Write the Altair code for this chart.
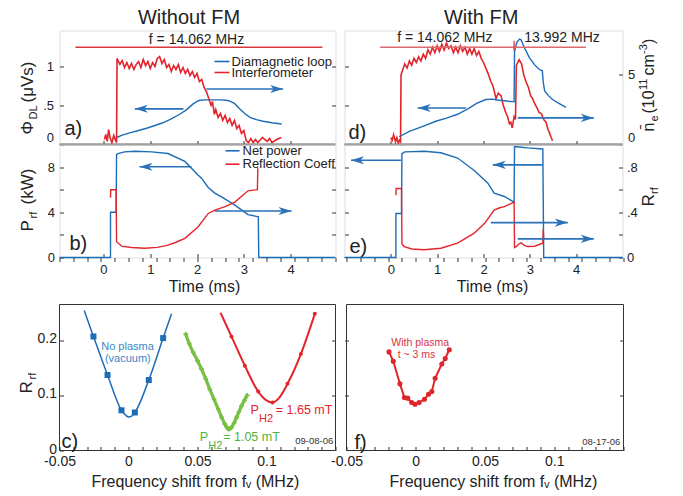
import altair as alt
import pandas as pd

FONT = "Liberation Sans, Arial, Helvetica, sans-serif"
BLUE = "#1d6cb7"
RED = "#e4242b"
GREEN = "#76c043"
GREEN_T = "#4fb33a"
ARROW = "#2a71b8"
FLINE = "#d8383f"
FLINE_D = "#dc6a6e"
INK = "#222222"

# ---------------- (a) without FM: diamagnetic loop (uVs) and interferometer (1e11 cm^-3)
A_DL_T = [0.28, 0.40, 0.56, 0.75, 0.92, 1.10, 1.27, 1.45, 1.63, 1.78, 1.91, 2.00, 2.06, 2.20,
          2.35, 2.50, 2.62, 2.70, 2.80, 2.91, 3.02, 3.13, 3.27, 3.41, 3.60, 3.81]
A_DL_V = [0.09, 0.12, 0.15, 0.18, 0.21, 0.245, 0.28, 0.33, 0.39, 0.45, 0.52, 0.555, 0.57, 0.575,
          0.575, 0.575, 0.57, 0.56, 0.53, 0.46, 0.40, 0.35, 0.32, 0.30, 0.28, 0.265]
A_NE_T = [0.02, 0.05, 0.08, 0.11, 0.14, 0.18, 0.22, 0.26, 0.28, 0.29, 0.35, 0.40, 0.45, 0.50,
          0.55, 0.60, 0.65, 0.70, 0.75, 0.80, 0.85, 0.90, 0.95, 1.00, 1.05, 1.10, 1.15, 1.20,
          1.25, 1.30, 1.35, 1.40, 1.45, 1.50, 1.55, 1.60, 1.65, 1.70, 1.75, 1.80, 1.85, 1.90,
          1.95, 2.00, 2.05, 2.10, 2.15, 2.20, 2.25, 2.30, 2.33, 2.37, 2.40, 2.45, 2.50, 2.55,
          2.60, 2.65, 2.70, 2.75, 2.80, 2.85, 2.90, 2.95, 3.00, 3.05, 3.10, 3.15, 3.20, 3.25,
          3.30, 3.40, 3.50, 3.55, 3.60, 3.70, 3.80]
A_NE_V = [0.36, 0.72, 0.22, 1.08, 0.50, 0.14, 0.65, 0.29, 0.14, 6.19, 5.76, 6.04, 5.54, 5.90,
          5.47, 5.83, 5.40, 5.76, 5.97, 5.54, 6.12, 5.68, 5.97, 5.47, 5.90, 5.61, 6.19, 6.33,
          5.83, 6.12, 5.54, 5.76, 5.25, 5.68, 5.40, 5.76, 5.18, 5.54, 5.11, 5.40, 4.96, 5.25,
          4.82, 5.11, 4.53, 4.68, 4.10, 3.81, 3.31, 2.81, 3.09, 2.16, 2.52, 1.94, 2.23, 1.73,
          2.09, 1.58, 1.87, 1.37, 1.73, 1.15, 1.37, 0.79, 1.01, 0.29, 0.14, 0.43, 0.14, 0.36,
          0.14, 0.50, 0.22, 0.43, 0.14, 0.36, 0.50]
A_FLINE = {"t0": [-0.60], "t1": [4.68], "v": [1.254]}
A_ARR_X0 = [1.71, 2.20]
A_ARR_X1 = [0.67, 3.84]
A_ARR_Y = [0.46, 0.716]

# ---------------- (b) without FM: net power (kW) and reflection coefficient
B_NP_T = [-0.94, 0.15, 0.15, 0.27, 0.28, 0.31, 0.45, 0.67, 1.03, 1.38, 1.74, 2.02, 2.10, 2.24,
          2.38, 2.55, 2.80, 3.09, 3.31, 3.32, 4.96]
B_NP_V = [0, 0, 4.0, 4.0, 9.1, 9.2, 9.35, 9.4, 9.35, 9.2, 8.5, 7.3, 7.0, 6.2,
          5.7, 5.3, 4.65, 3.8, 3.6, 0, 0]
B_RC_T = [0.15, 0.155, 0.27, 0.28, 0.39, 0.60, 0.88, 1.15, 1.38, 1.55, 1.74, 2.02, 2.24, 2.38,
          2.60, 2.81, 3.09, 3.29, 3.30]
B_RC_V = [0.53, 0.60, 0.60, 0.14, 0.10, 0.088, 0.082, 0.09, 0.11, 0.135, 0.17, 0.27, 0.39, 0.42,
          0.45, 0.49, 0.59, 0.60, 0.79]
B_ARR_X0 = [1.88, 2.38]
B_ARR_X1 = [0.77, 4.02]
B_ARR_Y = [8.03, 4.12]

# ---------------- (d) with FM
D_DL_T = [0.18, 0.40, 0.72, 0.97, 1.20, 1.44, 1.69, 1.85, 2.05, 2.20, 2.34, 2.50, 2.66, 2.67,
          2.72, 2.78, 2.81, 2.88, 2.99, 3.10, 3.20, 3.27, 3.29, 3.32, 3.40, 3.49, 3.60, 3.78]
D_DL_V = [0.10, 0.17, 0.24, 0.30, 0.34, 0.39, 0.47, 0.53, 0.58, 0.585, 0.57, 0.56, 0.55, 1.20,
          1.32, 1.36, 1.35, 1.25, 1.12, 1.03, 0.97, 0.95, 0.80, 0.69, 0.63, 0.58, 0.54, 0.48]
D_NE_T = [0.00, 0.03, 0.06, 0.10, 0.13, 0.16, 0.19, 0.21, 0.22, 0.25, 0.30, 0.35, 0.40, 0.45,
          0.50, 0.55, 0.60, 0.65, 0.70, 0.75, 0.80, 0.85, 0.90, 0.95, 1.00, 1.05, 1.10, 1.15,
          1.20, 1.25, 1.30, 1.35, 1.40, 1.45, 1.50, 1.55, 1.60, 1.65, 1.70, 1.75, 1.80, 1.85,
          1.90, 1.95, 2.00, 2.05, 2.10, 2.15, 2.20, 2.25, 2.27, 2.32, 2.38, 2.42, 2.48, 2.52,
          2.56, 2.59, 2.62, 2.66, 2.69, 2.71, 2.77, 2.82, 2.87, 2.92, 2.97, 3.02, 3.06, 3.11,
          3.16, 3.20, 3.25, 3.30, 3.35, 3.39, 3.42, 3.46, 3.49]
D_NE_V = [0.5, 0.3, 0.7, 0.2, 0.5, 0.1, 0.3, 0.2, 5.0, 5.3, 5.8, 5.5, 6.0, 5.7,
          6.2, 5.9, 6.3, 6.0, 6.5, 6.2, 6.8, 6.5, 7.0, 6.6, 7.1, 6.7, 7.2, 6.8,
          7.3, 6.9, 7.1, 6.6, 7.0, 6.6, 7.1, 6.7, 7.0, 6.5, 6.9, 6.5, 6.9, 6.4,
          6.7, 6.2, 5.9, 5.5, 5.1, 4.6, 4.25, 3.6, 3.3, 3.7, 3.5, 2.9, 2.3, 2.0,
          1.5, 1.6, 1.2, 2.0, 1.8, 5.7, 6.1, 5.8, 5.0, 4.5, 4.1, 3.5, 3.3, 2.9,
          2.6, 2.3, 2.2, 1.8, 1.6, 1.1, 0.87, 0.5, 0.27]
D_FLINE = {"t0": [-0.23], "t1": [4.21], "v": [1.254]}
D_FTICK = {"t": [2.66], "v0": [1.21], "v1": [1.338]}
D_ARR_X0 = [1.62, 2.74]
D_ARR_X1 = [0.58, 4.38]
D_ARR_Y = [0.47, 0.343]

# ---------------- (e) with FM
E_NP_T = [-1.0, 0.11, 0.11, 0.23, 0.24, 0.30, 0.72, 1.08, 1.44, 1.80, 2.09, 2.23, 2.45, 2.66,
          2.67, 2.72, 2.95, 3.28, 3.30, 5.0]
E_NP_V = [0, 0, 3.9, 3.9, 9.2, 9.35, 9.4, 9.27, 8.8, 7.7, 6.6, 5.7, 5.4, 4.9,
          9.8, 9.8, 9.7, 9.6, 0, 0]
E_RC_T = [0.11, 0.115, 0.23, 0.24, 0.29, 0.45, 0.72, 1.08, 1.44, 1.80, 2.02, 2.23, 2.35, 2.45,
          2.66, 2.67, 2.72, 2.76, 2.81, 2.87, 2.95, 3.10, 3.28, 3.29, 3.30]
E_RC_V = [0.55, 0.61, 0.61, 0.12, 0.097, 0.075, 0.068, 0.082, 0.127, 0.215, 0.30, 0.42, 0.44, 0.45,
          0.49, 0.088, 0.10, 0.12, 0.13, 0.11, 0.097, 0.10, 0.126, 0.25, 0.15]
E_ARR_X0 = [0.22, 3.28, 2.16, 2.74]
E_ARR_X1 = [-0.86, 2.20, 3.82, 4.38]
E_ARR_Y = [8.6, 8.2, 3.09, 1.65]

# ---------------- (c) frequency scans, 09-08-06
C_VAC_F = [-0.0321, -0.0254, -0.0152, -0.0051, -0.002, 0.0, 0.002, 0.0046, 0.0147, 0.0251, 0.0312]
C_VAC_R = [0.254, 0.207, 0.137, 0.073, 0.064, 0.061, 0.062, 0.069, 0.128, 0.204, 0.248]
C_VAC_PF = [-0.0254, -0.0152, -0.0051, 0.0046, 0.0147, 0.0251]
C_VAC_PR = [0.207, 0.137, 0.073, 0.069, 0.128, 0.204]
C_G_F = [0.0415, 0.0440, 0.0469, 0.0500, 0.0529, 0.0560, 0.0589, 0.0620, 0.0650, 0.0675, 0.0698,
         0.0710, 0.0722, 0.0734, 0.0746, 0.0765, 0.0783, 0.0800, 0.0819, 0.0840, 0.0860]
C_G_R = [0.211, 0.194, 0.178, 0.163, 0.148, 0.130, 0.111, 0.093, 0.075, 0.060, 0.048,
         0.043, 0.039, 0.039, 0.042, 0.050, 0.060, 0.070, 0.081, 0.091, 0.100]
C_R_F = [0.0667, 0.0746, 0.0843, 0.0940, 0.1000, 0.1043, 0.1090, 0.1152, 0.1249, 0.1350]
C_R_R = [0.250, 0.207, 0.154, 0.107, 0.091, 0.087, 0.095, 0.121, 0.175, 0.248]
C_R_PF = [0.0746, 0.0843, 0.0940, 0.1043, 0.1152, 0.1249, 0.1350]
C_R_PR = [0.207, 0.154, 0.107, 0.087, 0.121, 0.175, 0.248]

# ---------------- (f) with plasma, t ~ 3 ms, 08-17-06
F_F = [-0.0193, -0.0162, -0.0114, -0.0082, -0.0058, -0.0029, -0.0005, 0.0024, 0.0063, 0.0092,
       0.0116, 0.0140, 0.0188, 0.0213, 0.0242]
F_R = [0.179, 0.162, 0.121, 0.096, 0.095, 0.087, 0.084, 0.087, 0.093, 0.102,
       0.107, 0.131, 0.157, 0.167, 0.183]

TIME_TICKS = [0, 1, 2, 3, 4]
FREQ_TICKS = [-0.05, -0.04, -0.03, -0.02, -0.01, 0, 0.01, 0.02, 0.03, 0.04, 0.05, 0.06, 0.07,
              0.08, 0.09, 0.1, 0.11, 0.12, 0.13, 0.14, 0.15]
FREQ_LABELS = "[-0.05, 0, 0.05, 0.1]"

ONE = pd.DataFrame({"k": [0]})
HEAD_R = "M1,0L-1,-0.62L-0.45,0L-1,0.62Z"
HEAD_L = "M-1,0L1,-0.62L0.45,0L1,0.62Z"
GAP = 47  # empty band above the frequency panels (c, f)


def series(ts, vs):
    return pd.DataFrame({"t": ts, "v": vs, "i": list(range(len(ts)))})


def ax(orient, values, labels=True, expr="toString(datum.value)", pad=5, size=13, flush=False,
       loff=0):
    kw = dict(orient=orient, values=values, title=None, domain=False, grid=False,
              ticks=True, tickSize=4, offset=-4, tickColor="#333", tickWidth=1,
              labels=labels, labelFlush=flush)
    if labels:
        kw.update(labelExpr=expr, labelPadding=pad, labelFontSize=size, labelFont=FONT,
                  labelColor=INK, labelOffset=loff)
    return alt.Axis(**kw)


def scale_fn(channel, dom, axis, rng=None):
    cls = alt.X if channel == "x" else alt.Y
    skw = dict(domain=dom, nice=False, zero=False)
    if rng is not None:
        skw["range"] = rng

    def f(field, axis_override="same"):
        a = axis if axis_override == "same" else axis_override
        return cls(field, type="quantitative", scale=alt.Scale(**skw), axis=a)
    return f


def txt(s, x, y, size=13, color=INK, align="left", angle=0, baseline="alphabetic"):
    return alt.Chart(ONE).mark_text(text=s, font=FONT, fontSize=size, color=color, align=align,
                                    baseline=baseline, angle=angle).encode(
        x=alt.value(x), y=alt.value(y))


def hline(x0, x1, y, color, width=1.6):
    return alt.Chart(ONE).mark_rule(color=color, strokeWidth=width).encode(
        x=alt.value(x0), x2=alt.value(x1), y=alt.value(y))


def frame(x0, x1, y0, y1):
    return alt.Chart(ONE).mark_rect(fillOpacity=0, stroke="#333", strokeWidth=1).encode(
        x=alt.value(x0), x2=alt.value(x1), y=alt.value(y0), y2=alt.value(y1))


def line(ts, vs, X, Y, color, width=1.3, interp="linear", xaxis="same", yaxis="same"):
    return alt.Chart(series(ts, vs)).mark_line(color=color, strokeWidth=width,
                                               interpolate=interp).encode(
        x=X("t", xaxis), y=Y("v", yaxis), order=alt.Order("i:Q"))


def arrows(x0, x1, y, X, Y):
    d = pd.DataFrame({"t0": x0, "t1": x1, "v": y})
    shaft = alt.Chart(d).mark_rule(color=ARROW, strokeWidth=1.6).encode(
        x=X("t0"), x2=alt.X2("t1"), y=Y("v"))
    right = alt.Chart(d).transform_filter("datum.t1 > datum.t0").mark_point(
        shape=HEAD_R, filled=True, size=170, color=ARROW, opacity=1, xOffset=-6.5).encode(
        x=X("t1"), y=Y("v"))
    left = alt.Chart(d).transform_filter("datum.t1 < datum.t0").mark_point(
        shape=HEAD_L, filled=True, size=170, color=ARROW, opacity=1, xOffset=6.5).encode(
        x=X("t1"), y=Y("v"))
    return [shaft, right, left]


def rot(parts):
    return [txt(s, x, y, size, color=INK, angle=270) for (s, x, y, size) in parts]


TITLE_Y = -6.8

# ================= panel a =================
XA = scale_fn("x", [-0.94, 4.96], ax("bottom", TIME_TICKS, labels=False))
YA_PHI = scale_fn("y", [0, 1.47], None)
YA_NE = scale_fn("y", [0, 8.2], None)
phi_axis_a = ax("left", [0, 0.5, 1],
                expr="datum.value == 0.5 ? '.5' : toString(datum.value)", pad=6, flush=True)

panel_a = alt.layer(
    hline(0, 276, 114, "#666", 2.2),
    alt.Chart(series(A_DL_T, A_DL_V)).mark_line(color=BLUE, strokeWidth=1.4).encode(
        x=XA("t"), y=YA_PHI("v", phi_axis_a), order=alt.Order("i:Q")),
    line(A_NE_T, A_NE_V, XA, YA_NE, RED, 1.6),
    alt.Chart(pd.DataFrame(A_FLINE)).mark_rule(color=FLINE, strokeWidth=1.3).encode(
        x=XA("t0"), x2=alt.X2("t1"),
        y=YA_PHI("v", ax("right", [0.5, 1], labels=False))),
    *arrows(A_ARR_X0, A_ARR_X1, A_ARR_Y, XA, YA_PHI),
    hline(155, 170, 31, BLUE), hline(155, 170, 42, RED),
    txt("Diamagnetic loop", 172, 31, 13, baseline="middle"),
    txt("Interferometer", 172, 42, 13, baseline="middle"),
    txt("f = 14.062 MHz", 137, 13.7, 14, align="center"),
    txt("Without FM", 129.5, TITLE_Y, 20, align="center"),
    txt("a)", 5, 104, 20),
    *rot([("Φ", -27, 104, 17), ("DL", -23, 89, 11), ("(μVs)", -27, 72, 17)]),
).resolve_scale(y="independent").properties(width=276, height=114)

# ================= panel b =================
XB = scale_fn("x", [-0.94, 4.96], ax("bottom", TIME_TICKS, pad=6))
YB_P = scale_fn("y", [0, 10], None)
YB_R = scale_fn("y", [0, 1], None)
p_axis_b = ax("left", [0, 2, 4, 6, 8],
              expr="datum.value % 4 == 0 ? toString(datum.value) : ''", pad=5)
r_axis_b = ax("right", [0.2, 0.4, 0.6, 0.8], labels=False)

panel_b = alt.layer(
    alt.Chart(series(B_NP_T, B_NP_V)).mark_line(color=BLUE, strokeWidth=1.4).encode(
        x=XB("t"), y=YB_P("v", p_axis_b), order=alt.Order("i:Q")),
    alt.Chart(series(B_RC_T, B_RC_V)).mark_line(color=RED, strokeWidth=1.4).encode(
        x=XB("t"), y=YB_R("v", r_axis_b), order=alt.Order("i:Q")),
    *arrows(B_ARR_X0, B_ARR_X1, B_ARR_Y, XB, YB_P),
    hline(166, 180, 6.3, BLUE), hline(166, 180, 19.7, RED),
    txt("Net power", 183, 6.3, 13, baseline="middle"),
    txt("Reflection Coeff", 183, 19.7, 13, baseline="middle"),
    txt("b)", 10, 105, 20),
    txt("Time (ms)", 145, 147, 16, align="center"),
    *rot([("P", -27, 87, 17), ("rf", -23, 74, 11), ("(kW)", -27, 60, 17)]),
).resolve_scale(y="independent").properties(width=276, height=113)

# ================= panel d =================
XD = scale_fn("x", [-1.0, 5.0], ax("bottom", TIME_TICKS, labels=False))
YD_PHI = scale_fn("y", [0, 1.47], None)
YD_NE = scale_fn("y", [0, 8.2], None)
phi_axis_d = ax("left", [0.5, 1], labels=False)
ne_axis_d = ax("right", [0, 5], pad=5, flush=True)

panel_d = alt.layer(
    hline(0, 278, 114, "#666", 2.2),
    alt.Chart(series(D_NE_T, D_NE_V)).mark_line(color=RED, strokeWidth=1.6).encode(
        x=XD("t"), y=YD_NE("v", ne_axis_d), order=alt.Order("i:Q")),
    alt.Chart(series(D_DL_T, D_DL_V)).mark_line(color=BLUE, strokeWidth=1.4).encode(
        x=XD("t"), y=YD_PHI("v", phi_axis_d), order=alt.Order("i:Q")),
    alt.Chart(pd.DataFrame(D_FLINE)).mark_rule(color=FLINE_D, strokeWidth=1.3).encode(
        x=XD("t0"), x2=alt.X2("t1"), y=YD_PHI("v")),
    alt.Chart(pd.DataFrame(D_FTICK)).mark_rule(color=FLINE, strokeWidth=1.3).encode(
        x=XD("t"), y=YD_PHI("v0"), y2=alt.Y2("v1")),
    *arrows(D_ARR_X0, D_ARR_X1, D_ARR_Y, XD, YD_PHI),
    txt("f = 14.062 MHz", 100.3, 11.7, 14, align="center"),
    txt("13.992 MHz", 217.5, 11.7, 14, align="center"),
    txt("With FM", 136.7, TITLE_Y, 20, align="center"),
    txt("d)", 4, 108, 20),
    *rot([("n\u0304", 309, 101, 16), ("e", 313, 91, 11), ("(10", 309, 83, 16),
          ("11", 302, 59.5, 11), ("cm", 309, 45, 16), ("-3", 302, 23.5, 11),
          (")", 309, 13.5, 16)]),
).resolve_scale(y="independent").properties(width=278, height=114)

# ================= panel e =================
XE = scale_fn("x", [-1.0, 5.0], ax("bottom", TIME_TICKS, pad=6))
YE_P = scale_fn("y", [0, 10], None)
YE_R = scale_fn("y", [0, 1], None)
p_axis_e = ax("left", [2, 4, 6, 8], labels=False)
r_axis_e = ax("right", [0, 0.2, 0.4, 0.6, 0.8], pad=4,
              expr="datum.value == 0 ? '0' : (datum.value == 0.4 ? '.4' : (datum.value == 0.8 ? '.8' : ''))")

panel_e = alt.layer(
    alt.Chart(series(E_NP_T, E_NP_V)).mark_line(color=BLUE, strokeWidth=1.4).encode(
        x=XE("t"), y=YE_P("v", p_axis_e), order=alt.Order("i:Q")),
    alt.Chart(series(E_RC_T, E_RC_V)).mark_line(color=RED, strokeWidth=1.4).encode(
        x=XE("t"), y=YE_R("v", r_axis_e), order=alt.Order("i:Q")),
    *arrows(E_ARR_X0, E_ARR_X1, E_ARR_Y, XE, YE_P),
    txt("e)", 5, 108.7, 20),
    txt("Time (ms)", 148, 147, 16, align="center"),
    *rot([("R", 309, 62, 17), ("rf", 313, 49.5, 11)]),
).resolve_scale(y="independent").properties(width=278, height=113)

# ================= panel c =================
H_CF = 146 + GAP
G = GAP
freq_expr = ("indexof(" + FREQ_LABELS + ", datum.value) >= 0 ? "
             "(datum.value == -0.05 ? '-0.05' : toString(datum.value)) : ''")
c_bottom = ax("bottom", FREQ_TICKS, expr=freq_expr, pad=4, size=14)
c_top = ax("top", FREQ_TICKS, labels=False)
c_left = ax("left", [0, 0.1, 0.2], pad=3, size=14, loff=-1.5)
c_right = ax("right", [0.1, 0.2], labels=False)
XC = scale_fn("x", [-0.05, 0.15], None)
YC = scale_fn("y", [0, 0.265], None, rng=[H_CF, G])

panel_c = alt.layer(
    frame(0, 276, G, H_CF),
    line(C_VAC_F, C_VAC_R, XC, YC, BLUE, 1.5, "monotone", xaxis=c_bottom, yaxis=c_left),
    alt.Chart(series(C_VAC_PF, C_VAC_PR)).mark_square(size=36, color=BLUE, opacity=1).encode(
        x=XC("t", c_top), y=YC("v", c_right)),
    line(C_G_F, C_G_R, XC, YC, GREEN, 3.2, "monotone"),
    alt.Chart(series(C_G_F, C_G_R)).mark_point(shape="cross", filled=True, size=22, color=GREEN,
                                               opacity=1).encode(x=XC("t"), y=YC("v")),
    line(C_R_F, C_R_R, XC, YC, RED, 2.0, "monotone"),
    alt.Chart(series(C_R_PF, C_R_PR)).mark_circle(size=16, color=RED, opacity=1).encode(
        x=XC("t"), y=YC("v")),
    txt("No plasma", 68, G + 45.3, 11, color="#3a86c8", align="center"),
    txt("(vacuum)", 68.3, G + 57, 11, color="#3a86c8", align="center"),
    txt("P", 191, G + 109.7, 12.5, color=RED), txt("H2", 199.5, G + 117, 11, color=RED),
    txt("= 1.65 mT", 216.3, G + 109.7, 12.5, color=RED),
    txt("P", 140.3, G + 136.3, 12.5, color=GREEN_T),
    txt("H2", 148.7, G + 144.5, 11, color=GREEN_T),
    txt("= 1.05 mT", 163.7, G + 136.3, 12.5, color=GREEN_T),
    txt("09-08-06", 273.7, G + 139.7, 9.5, color="#333", align="right"),
    txt("c)", 2, G + 143.7, 20),
    txt("Frequency shift from f\u1d65  (MHz)", 135.8, G + 182.2, 16, align="center"),
    *rot([("R", -28, G + 89, 17), ("rf", -24, G + 75, 11)]),
).resolve_axis(x="independent", y="independent").properties(
    width=276, height=H_CF, view=alt.ViewBackground(stroke="transparent"))

# ================= panel f =================
f_bottom = ax("bottom", FREQ_TICKS, expr=freq_expr, pad=4, size=14)
f_top = ax("top", FREQ_TICKS, labels=False)
f_left = ax("left", [0.1, 0.2], labels=False)
f_right = ax("right", [0.1, 0.2], labels=False)
XF = scale_fn("x", [-0.05, 0.15], None, rng=[2, 279])
YF = scale_fn("y", [0, 0.265], None, rng=[H_CF, G])

panel_f = alt.layer(
    frame(2, 279, G, H_CF),
    line(F_F, F_R, XF, YF, "#e0262d", 2.0, xaxis=f_bottom, yaxis=f_left),
    alt.Chart(series(F_F, F_R)).mark_circle(size=26, color="#e0262d", opacity=1).encode(
        x=XF("t", f_top), y=YF("v", f_right)),
    txt("With plasma", 75.7, G + 41, 10.5, color="#d8343a", align="center"),
    txt("t ~ 3 ms", 72, G + 53, 10.5, color="#d8343a", align="center"),
    txt("08-17-06", 275.7, G + 140.3, 9.5, color="#333", align="right"),
    txt("f)", 10, G + 144, 20),
    txt("Frequency shift from f\u1d65 (MHz)", 149, G + 182.2, 16, align="center"),
).resolve_axis(x="independent", y="independent").properties(
    width=279, height=H_CF, view=alt.ViewBackground(stroke="transparent"))

chart = alt.concat(
    panel_a, panel_d, panel_b, panel_e, panel_c, panel_f,
    columns=2, spacing={"row": 0, "column": 9}, bounds="flush",
).properties(
    padding={"left": 8.5, "top": -1.5, "right": 2, "bottom": 0}
).configure_view(stroke="#333", strokeWidth=1).configure(font=FONT)

chart.save("out.html", embed_options={"renderer": "svg", "actions": False})
